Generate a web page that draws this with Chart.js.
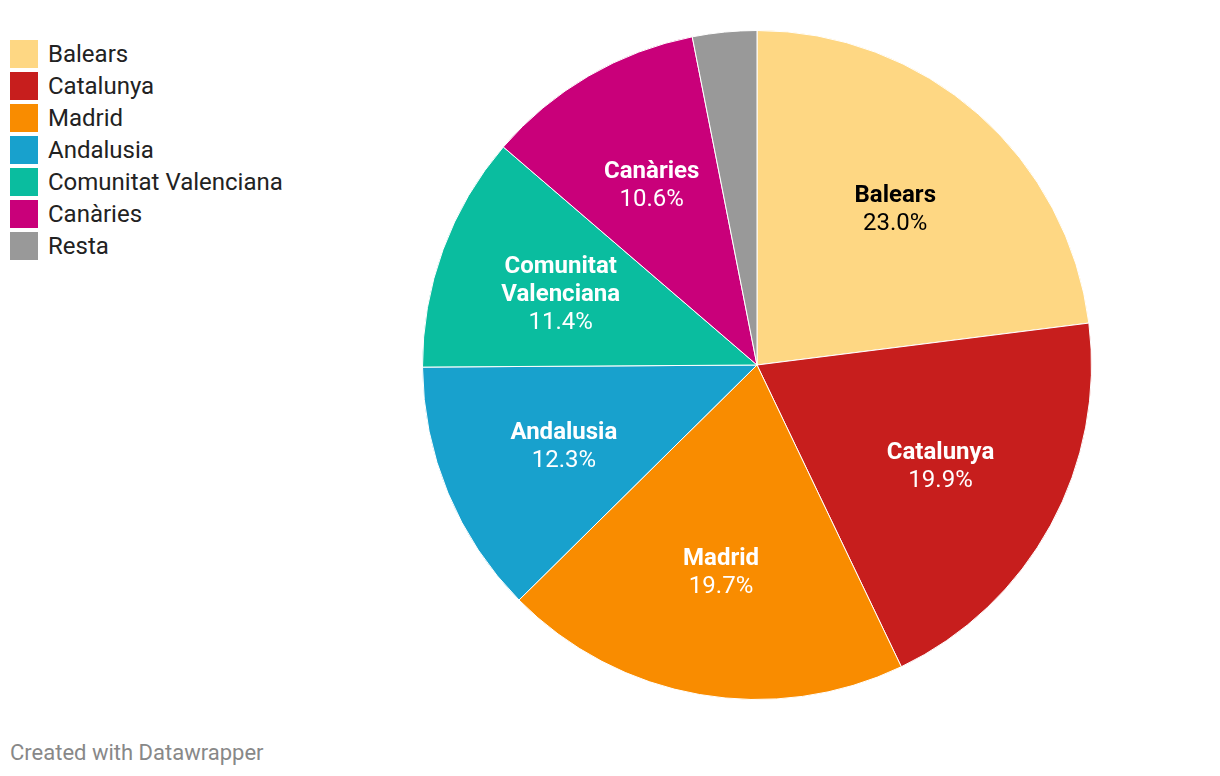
<!DOCTYPE html>
<html>
<head>
<meta charset="utf-8">
<script src="https://cdn.jsdelivr.net/npm/chart.js@4"></script>
<style>
  body { margin: 0; background: #fff; font-family: Roboto, sans-serif; }
  .wrap { position: relative; width: 1220px; height: 776px; }
  .legend { position: absolute; left: 10px; top: 38px; }
  .legend-row { display: flex; align-items: center; height: 32px; font-size: 24px; color: #222; }
  .legend-box { width: 28px; height: 28px; margin-right: 10px; }
  .pie { position: absolute; left: 422px; top: 30px; width: 670px; height: 670px; }
  .credit { position: absolute; left: 10px; top: 740px; font-size: 22px; color: #888; }
</style>
</head>
<body>
<div class="wrap">
  <div class="legend" id="legend"></div>
  <div class="pie"><canvas id="chart-pie"></canvas></div>
  <div class="credit">Created with Datawrapper</div>
</div>
<script>
const regions = ["Balears", "Catalunya", "Madrid", "Andalusia", "Comunitat Valenciana", "Canàries", "Resta"];
const labelLines = [["Balears"], ["Catalunya"], ["Madrid"], ["Andalusia"], ["Comunitat", "Valenciana"], ["Canàries"], null];
const shares = [23.0, 19.9, 19.7, 12.3, 11.4, 10.6, 3.1];
const colors = ["#fed783", "#c71e1d", "#f98c00", "#18a1cd", "#0abd9f", "#c9007a", "#999999"];
const labelColors = ["#000", "#fff", "#fff", "#fff", "#fff", "#fff", "#fff"];

document.getElementById("legend").innerHTML = regions
  .map((r, i) => `<div class="legend-row"><div class="legend-box" style="background:${colors[i]}"></div>${r}</div>`)
  .join("");

// draws name (bold) + percentage inside each slice
const sliceLabels = {
  id: "sliceLabels",
  afterDatasetsDraw(chart) {
    const ctx = chart.ctx;
    const meta = chart.getDatasetMeta(0);
    meta.data.forEach((arc, i) => {
      if (!labelLines[i]) return;
      const mid = (arc.startAngle + arc.endAngle) / 2;
      const r = arc.outerRadius * 0.625;
      const x = arc.x + Math.cos(mid) * r;
      const y = arc.y + Math.sin(mid) * r + 2;
      const lines = [...labelLines[i], shares[i].toFixed(1) + "%"];
      const lh = 28;
      let ty = y - ((lines.length - 1) * lh) / 2;
      ctx.save();
      ctx.fillStyle = labelColors[i];
      ctx.textAlign = "center";
      ctx.textBaseline = "middle";
      lines.forEach((line, j) => {
        ctx.font = (j < lines.length - 1 ? "bold " : "") + "24px Roboto";
        ctx.fillText(line, x, ty + j * lh);
      });
      ctx.restore();
    });
  },
};

new Chart(document.getElementById("chart-pie"), {
  type: "pie",
  data: {
    labels: regions,
    datasets: [
      {
        data: shares,
        backgroundColor: colors,
        borderColor: "#fff",
        borderWidth: 1,
      },
    ],
  },
  options: {
    responsive: true,
    maintainAspectRatio: false,
    animation: false,
    layout: { padding: 0 },
    plugins: {
      legend: { display: false },
      tooltip: { enabled: false },
    },
  },
  plugins: [sliceLabels],
});
</script>
</body>
</html>
